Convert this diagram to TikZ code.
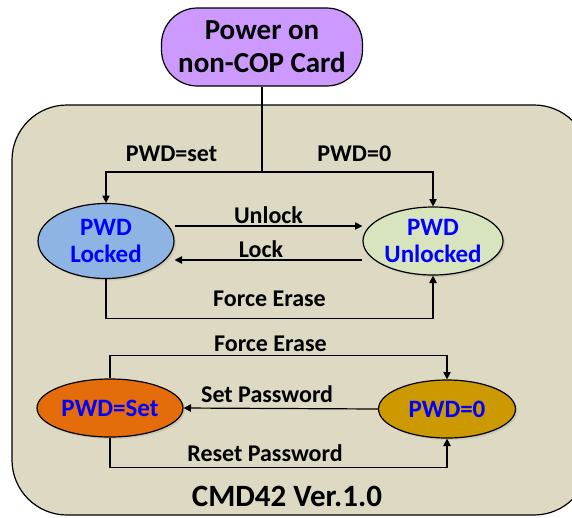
\documentclass[tikz,border=0pt]{standalone}
\usepackage{fontspec}
\setmainfont{Carlito}
\usetikzlibrary{arrows.meta, shapes, shadows, positioning}
\definecolor{powerfill}{HTML}{CC99FF}
\definecolor{cardfill}{HTML}{DDD9C3}
\definecolor{lockedfill}{HTML}{8EB4E3}
\definecolor{unlockedfill}{HTML}{D7E4BD}
\definecolor{setfill}{HTML}{E46C0A}
\definecolor{zerofill}{HTML}{CC9900}
\tikzset{%
  >={Triangle[width=2.6mm,length=2.6mm]},
  % Specifications for style of nodes:
  base/.style = {draw, line width=1.2pt, align=center, inner sep=0pt},
  power/.style = {base, rectangle, rounded corners=36pt, fill=powerfill,
                  minimum width=201pt, minimum height=78pt,
                  font=\bfseries\fontsize{29}{33}\selectfont},
  state/.style = {base, ellipse, text=blue,
                  drop shadow={opacity=0.2, shadow xshift=2pt, shadow yshift=-2pt},
                  font=\bfseries\fontsize{25}{27}\selectfont},
  lbl/.style = {font=\bfseries\fontsize{24}{26}\selectfont, inner sep=2pt},
  norm/.style = {->, draw, black, line width=1.2pt}
}

\begin{document}
\begin{tikzpicture}[x=1pt, y=-1pt]
  \useasboundingbox (0,0) rectangle (572,517);
  \clip (0,0) rectangle (572,517);
  % card frame
  \draw[fill=cardfill, line width=1.2pt, rounded corners=55pt] (12,105) rectangle (589,515);
  % Specification of nodes (position, etc.)
  \node (power) [power] at (262,47) {Power on\\non-COP Card};
  \node (locked) [state, fill=lockedfill, minimum width=136pt, minimum height=75pt] at (106,241) {PWD\\Locked};
  \node (unlocked) [state, fill=unlockedfill, minimum width=140pt, minimum height=68pt] at (433,241) {PWD\\Unlocked};
  \node (set) [state, fill=setfill, minimum width=146pt, minimum height=58pt] at (110,408) {PWD=Set};
  \node (zero) [state, fill=zerofill, minimum width=137pt, minimum height=58pt] at (447,409) {PWD=0};
  \node (cmd) [font=\bfseries\fontsize{31}{34}\selectfont] at (287,496) {CMD42 Ver.1.0};

  \draw [line width=1.2pt] (power.south) -- (262,172) coordinate (split);
  \draw [norm] (split) -| node [lbl, pos=0.29, above=8pt] {PWD=set} (locked.north);
  \draw [norm] (split) -| node [lbl, pos=0.27, above=8pt] {PWD=0} (unlocked.north);

  \draw [norm] ([yshift=15pt]locked.east) -- node [lbl, above] {Unlock} ([yshift=15pt]unlocked.west);
  \draw [norm] ([yshift=-19pt]unlocked.west) -- node [lbl, pos=0.54, above] {Lock} ([yshift=-19pt]locked.east);
  \draw [norm] (locked.south) -- ++(0,39) -| node [lbl, pos=0.25, above=9pt] {Force Erase} (unlocked.south);

  \draw [norm] (set.north) -- ++(0,-23) -| node [lbl, pos=0.238, above=1pt] {Force Erase} (zero.north);
  \draw [norm] (zero.west) -- node [lbl, pos=0.57, above=3pt] {Set Password} (set.east);
  \draw [norm] (set.south) -- ++(0,30) -| node [lbl, pos=0.23, above=3pt] {Reset Password} (zero.south);
\end{tikzpicture}
\end{document}
